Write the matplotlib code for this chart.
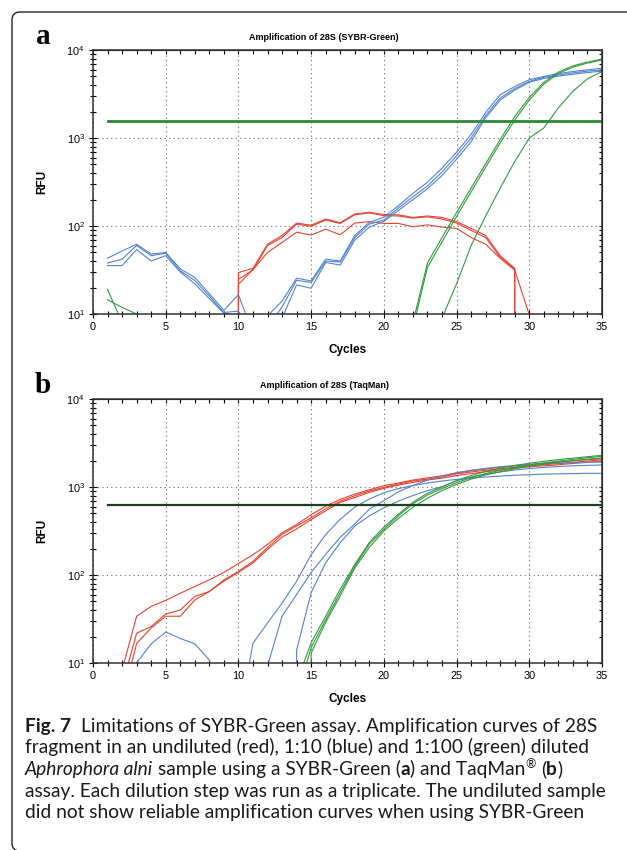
import matplotlib
matplotlib.use('Agg')
import matplotlib.pyplot as plt
import numpy as np
from matplotlib.patches import FancyBboxPatch
from matplotlib.transforms import IdentityTransform
from matplotlib.ticker import MultipleLocator, NullFormatter

plt.rcParams['font.family'] = ['Liberation Sans', 'DejaVu Sans']

# ---------------------------------------------------------------- data
cycles = np.arange(1, 36)

# panel a: SYBR-Green (0 = below detection, drawn clipped)
red_a = [
    [0, 0, 0, 0, 0, 0, 0, 0, 0, 29.6, 33, 62, 78, 108, 102, 120, 109, 137, 143, 135,
     134, 125, 130, 125, 112, 94, 78, 46, 33, 0, 0, 0, 0, 0, 0],
    [0, 0, 0, 0, 0, 0, 0, 0, 0, 24.8, 31.6, 60, 74, 105, 99, 117, 107, 134, 141, 131,
     130, 123, 127, 120, 108, 89, 74, 44, 32, 0, 0, 0, 0, 0, 11.5],
    [0, 0, 0, 0, 0, 0, 0, 0, 0, 21.8, 32, 50, 65, 85, 79, 92, 79.5, 108, 112, 107,
     107, 98, 103, 97, 94, 74, 62, 43, 31.5, 9.8, 0, 0, 0, 0, 0],
]
blue_a = [
    [43, 52, 62, 48, 50, 32.6, 26, 17, 11, 16.6, 6, 9.5, 14, 25.5, 23.8, 42, 40, 78, 110, 126,
     170, 235, 315, 455, 690, 1100, 1950, 3100, 3850, 4600, 5000, 5400, 5700, 5950, 6200],
    [38, 42, 60, 46, 49, 31, 24, 16, 10.4, 10.8, 6, 7, 12, 24.2, 22.8, 40, 39, 74, 105, 117,
     160, 215, 285, 410, 630, 1000, 1800, 2850, 3650, 4400, 4900, 5200, 5500, 5750, 5950],
    [35.5, 35.5, 54, 40, 46, 30, 22, 15, 10.2, 9.5, 5, 5, 9, 21.4, 19.6, 38.5, 36, 69, 97, 113,
     150, 200, 265, 375, 575, 910, 1700, 2700, 3500, 4300, 4750, 5050, 5300, 5550, 5750],
]
green_a = [
    [19, 8, 6, 5, 5, 5, 5, 5, 5, 5, 5, 5, 5, 5, 5, 5, 5, 5, 5, 5,
     5, 8, 38, 74, 142, 270, 510, 960, 1750, 2900, 4300, 5600, 6600, 7300, 7900],
    [14.5, 11.9, 10, 7, 5, 5, 5, 5, 5, 5, 5, 5, 5, 5, 5, 5, 5, 5, 5, 5,
     5, 7, 34, 66, 128, 245, 465, 880, 1600, 2700, 4100, 5400, 6400, 7100, 7700],
    [5, 5, 5, 5, 5, 5, 5, 5, 5, 5, 5, 5, 5, 5, 5, 5, 5, 5, 5, 5,
     5, 5, 5, 9, 22, 60, 130, 270, 540, 1000, 1300, 2200, 3400, 4700, 5700],
]
threshold_a = 1550

# panel b: TaqMan
red_b = [
    [4, 8.3, 34, 44, 51.5, 62, 74, 88, 107, 135, 170, 222, 302, 375, 485, 605, 725, 830, 930, 1035,
     1110, 1200, 1270, 1340, 1450, 1530, 1600, 1670, 1740, 1800, 1860, 1920, 1980, 2040, 2100],
    [3, 5.5, 21.8, 26, 36, 40, 57, 65, 88, 110, 143, 205, 290, 360, 447, 565, 690, 795, 900, 990,
     1080, 1170, 1230, 1300, 1410, 1480, 1550, 1610, 1680, 1740, 1790, 1850, 1900, 1970, 2040],
    [2, 3.7, 16.7, 25, 34, 34, 52, 65, 85, 107, 137, 195, 270, 333, 427, 535, 670, 760, 870, 965,
     1050, 1130, 1200, 1260, 1350, 1420, 1490, 1560, 1630, 1700, 1740, 1790, 1850, 1910, 1970],
]
blue_b = [
    [2, 5, 10, 16.5, 22.5, 19, 16.5, 10.8, 3, 2, 16.8, 28.4, 48, 85, 170, 288, 430, 590, 730, 860,
     960, 1040, 1110, 1170, 1220, 1260, 1300, 1330, 1360, 1380, 1400, 1410, 1420, 1430, 1430],
    [2, 2, 2, 2, 2, 2, 2, 2, 2, 2, 4, 9.2, 34, 60, 107, 172, 268, 380, 560, 700,
     880, 1040, 1200, 1330, 1450, 1550, 1630, 1700, 1750, 1800, 1840, 1870, 1890, 1910, 1920],
    [0, 0, 0, 0, 0, 0, 0, 0, 0, 0, 0, 0, 0, 14, 63, 138, 233, 360, 470, 580,
     690, 800, 910, 1010, 1180, 1300, 1400, 1480, 1560, 1620, 1670, 1710, 1740, 1760, 1780],
]
green_b = [
    [2, 2, 2, 2, 2, 2, 2, 2, 2, 2, 2, 2, 2, 4, 15, 31, 63, 126, 224, 332,
     470, 645, 810, 960, 1120, 1280, 1420, 1550, 1670, 1780, 1880, 1970, 2060, 2150, 2230],
    [2, 2, 2, 2, 2, 2, 2, 2, 2, 2, 2, 2, 2, 6, 17, 34, 69, 132, 234, 350,
     490, 670, 850, 1000, 1180, 1350, 1500, 1640, 1760, 1860, 1960, 2050, 2130, 2210, 2290],
    [0, 0, 0, 0, 0, 0, 0, 0, 0, 0, 0, 0, 0, 0, 13, 29, 58, 120, 206, 316,
     440, 590, 745, 910, 1070, 1230, 1370, 1490, 1610, 1730, 1820, 1910, 1990, 2070, 2140],
]
threshold_b = 620

RED = '#e8412f'
BLUE = '#5283d2'
GREEN = '#339a3c'

W, H = 627, 850
fig = plt.figure(figsize=(W / 100, H / 100), dpi=100)


def panel(top_px, red, blue, green, thr, thr_color, thr_lw, title, label):
    bottom_px = top_px + 264
    ax = fig.add_axes([93 / W, 1 - bottom_px / H, 509 / W, 264 / H])
    for s in red:
        ax.plot(cycles, s, color=RED, lw=0.8)
    for s in blue:
        ax.plot(cycles, s, color=BLUE, lw=0.8)
    for s in green:
        ax.plot(cycles, s, color=GREEN, lw=0.8)
    ax.plot([cycles[0], cycles[-1]], [thr, thr], color=thr_color, lw=thr_lw)

    ax.set_yscale('log', nonpositive='clip')
    ax.set_xlim(0, 35)
    ax.set_ylim(10, 1e4)
    ax.xaxis.set_major_locator(MultipleLocator(5))
    ax.xaxis.set_minor_locator(MultipleLocator(1))
    ax.yaxis.set_minor_formatter(NullFormatter())
    ax.grid(True, which='major', ls=(0, (1, 3)), color='#666666', lw=0.8)
    ax.tick_params(which='both', direction='inout', width=0.8, labelsize=7.8, pad=3)
    ax.tick_params(which='major', length=6)
    ax.tick_params(which='minor', length=4.5)
    for sp in ax.spines.values():
        sp.set_color('#333333')
        sp.set_linewidth(1.1)

    top = ax.secondary_xaxis('top')
    top.xaxis.set_major_locator(MultipleLocator(1))
    top.xaxis.set_major_formatter(NullFormatter())
    top.tick_params(direction='in', length=3, width=0.8)
    right = ax.secondary_yaxis('right')
    right.yaxis.set_major_formatter(NullFormatter())
    right.yaxis.set_minor_formatter(NullFormatter())
    right.tick_params(which='both', direction='in', length=2.5, width=0.8)

    fig.text(324 / W, 1 - (top_px - 13) / H, title, ha='center', va='center',
             fontsize=6.5, weight='bold')
    fig.text(43 / W, 1 - (top_px - 6) / H, label, ha='center', va='baseline',
             family='Liberation Serif', weight='bold', fontsize=21)
    fig.text(348 / W, 1 - (bottom_px + 36) / H, 'Cycles', ha='center', va='center',
             fontsize=8.5, weight='bold')
    fig.text(42 / W, 1 - (top_px + 132) / H, 'RFU', ha='center', va='center',
             rotation=90, fontsize=8.5, weight='bold')
    return ax


panel(50, red_a, blue_a, green_a, threshold_a, '#2b8a35', 2.0,
      'Amplification of 28S (SYBR-Green)', 'a')
panel(399, red_b, blue_b, green_b, threshold_b, '#1c421c', 1.6,
      'Amplification of 28S (TaqMan)', 'b')

# rounded frame round the figure, right side runs off the page
frame = FancyBboxPatch((12, -1), 700, 839, boxstyle='round,pad=0,rounding_size=8',
                       transform=IdentityTransform(), fill=False, lw=1.0, ec='#222222')
fig.add_artist(frame)

# caption with mixed styles
renderer = fig.canvas.get_renderer()
CAP = dict(family=['Lato', 'DejaVu Sans'], fontsize=13.75, color='#1a1a1a')


def width_of(s, kw):
    t = fig.text(0, 0, s, **kw)
    w = t.get_window_extent(renderer).width
    t.remove()
    return w


def rich_line(x, y, pieces):
    for txt, extra, dy in pieces:
        kw = dict(CAP)
        kw.update(extra)
        sw = width_of('n n', kw) - width_of('nn', kw)
        core = txt.strip(' ')
        lead = len(txt) - len(txt.lstrip(' '))
        trail = len(txt) - len(txt.rstrip(' '))
        x += lead * sw
        t = fig.text(x / W, 1 - (y - dy) / H, core, ha='left', va='baseline', **kw)
        x += t.get_window_extent(renderer).width + trail * sw


B = dict(weight='bold')
I = dict(style='italic')
R = {}
caption = [
    [('Fig. 7', B, 0), ('  Limitations of SYBR-Green assay. Amplification curves of 28S', R, 0)],
    [('fragment in an undiluted (red), 1:10 (blue) and 1:100 (green) diluted', R, 0)],
    [('Aphrophora alni', I, 0), (' sample using a SYBR-Green (', R, 0), ('a', B, 0),
     (') and TaqMan', R, 0), ('\u00ae', dict(fontsize=9), 7), (' (', R, 0), ('b', B, 0), (')', R, 0)],
    [('assay. Each dilution step was run as a triplicate. The undiluted sample', R, 0)],
    [('did not show reliable amplification curves when using SYBR-Green', R, 0)],
]
for i, line in enumerate(caption):
    rich_line(25, 732 + 21.5 * i, line)

fig.savefig('out.png', dpi=100)
